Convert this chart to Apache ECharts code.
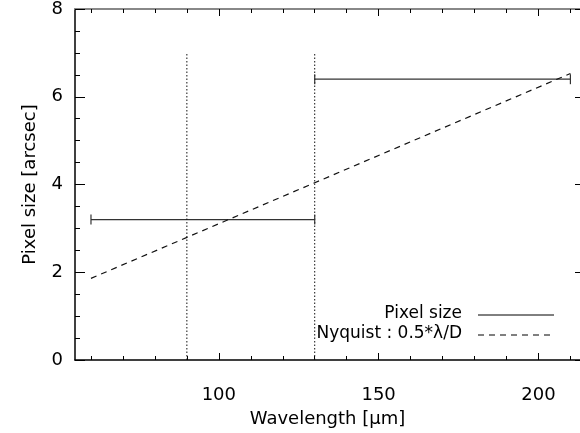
<!DOCTYPE html>
<html>
<head>
<meta charset="utf-8">
<script src="https://cdn.jsdelivr.net/npm/echarts@6/dist/echarts.min.js"></script>
<style>
  html, body { margin: 0; padding: 0; background: #fff; }
  #chart { width: 580px; height: 433px; }
</style>
</head>
<body>
<div id="chart"></div>
<script>
// pixel size per band (wavelength edges in um, size in arcsec)
const bandStart = [60, 130]
const bandEnd = [130, 210]
const pixelSize = [3.2, 6.4]

// Nyquist sampling 0.5*lambda/D
const nyquistWl = [60, 130, 210]
const nyquistVal = [1.86, 4.04, 6.53]

// dotted band dividers
const dividerWl = [90, 130]
const dividerTop = 7

const xMajor = [100, 150, 200]
const xMinor = [60, 70, 80, 90, 110, 120, 130, 140, 160, 170, 180, 190, 210]

const font = 'DejaVu Sans'
const chart = echarts.init(document.getElementById('chart'))

const series = []
bandStart.forEach((s, i) => {
  series.push({
    name: 'Pixel size',
    type: 'line',
    data: [[s, pixelSize[i]], [bandEnd[i], pixelSize[i]]],
    symbol: 'rect',
    symbolSize: [1.2, 10],
    itemStyle: { color: '#333' },
    lineStyle: { color: '#333', width: 1.2 },
    silent: true,
    animation: false
  })
})
dividerWl.forEach(w => {
  series.push({
    type: 'line',
    data: [[w, 0], [w, dividerTop]],
    symbol: 'none',
    lineStyle: { color: '#111', width: 1, type: [1.5, 2] },
    silent: true,
    animation: false
  })
})
series.push({
  name: 'Nyquist',
  type: 'line',
  data: nyquistWl.map((w, i) => [w, nyquistVal[i]]),
  symbol: 'none',
  lineStyle: { color: '#111', width: 1.2, type: [6, 5] },
  silent: true,
  animation: false
})

const xBase = { type: 'value', min: 55, max: 213, splitLine: { show: false } }

chart.setOption({
  backgroundColor: '#fff',
  textStyle: { fontFamily: font },
  grid: { left: 75, top: 9, width: 506, height: 361 },
  xAxis: [
    Object.assign({}, xBase, {
      position: 'bottom',
      name: 'Wavelength [μm]',
      nameLocation: 'middle',
      nameGap: 50,
      nameTextStyle: { fontSize: 18, color: '#000', fontFamily: font },
      axisLine: { lineStyle: { color: '#000', width: 1.5 } },
      axisTick: { inside: true, length: 7, customValues: xMajor, lineStyle: { color: '#000' } },
      axisLabel: { customValues: xMajor, margin: 26, fontSize: 18, color: '#000', fontFamily: font }
    }),
    Object.assign({}, xBase, {
      position: 'bottom',
      axisLine: { show: false },
      axisTick: { inside: true, length: 4, customValues: xMinor, lineStyle: { color: '#000' } },
      axisLabel: { show: false }
    }),
    Object.assign({}, xBase, {
      position: 'top',
      axisLine: { lineStyle: { color: '#888', width: 2 } },
      axisTick: { inside: true, length: 7, customValues: xMajor, lineStyle: { color: '#000' } },
      axisLabel: { show: false }
    }),
    Object.assign({}, xBase, {
      position: 'top',
      axisLine: { show: false },
      axisTick: { inside: true, length: 4, customValues: xMinor, lineStyle: { color: '#000' } },
      axisLabel: { show: false }
    })
  ],
  yAxis: [
    {
      type: 'value', min: 0, max: 8, interval: 2,
      position: 'left',
      name: 'Pixel size [arcsec]',
      nameLocation: 'middle',
      nameGap: 36,
      nameTextStyle: { fontSize: 18, color: '#000', fontFamily: font },
      axisLine: { show: true, lineStyle: { color: '#000', width: 1.5 } },
      axisTick: { inside: true, length: 10, lineStyle: { color: '#000' } },
      minorTick: { show: true, splitNumber: 4, length: 5, lineStyle: { color: '#000' } },
      axisLabel: { margin: 12, fontSize: 18, color: '#000', fontFamily: font },
      splitLine: { show: false }
    },
    {
      type: 'value', min: 0, max: 8, interval: 2,
      position: 'right',
      axisLine: { show: true, lineStyle: { color: '#000' } },
      axisTick: { inside: true, length: 5, lineStyle: { color: '#000' } },
      axisLabel: { show: false },
      splitLine: { show: false }
    }
  ],
  series: series,
  graphic: [
    { type: 'text', right: 580 - 462, top: 305,
      style: { text: 'Pixel size', font: '17px ' + font, fill: '#000', textAlign: 'right' } },
    { type: 'line', shape: { x1: 478, y1: 315, x2: 554, y2: 315 },
      style: { stroke: '#000', lineWidth: 1 } },
    { type: 'text', right: 580 - 462, top: 325,
      style: { text: 'Nyquist : 0.5*λ/D', font: '17px ' + font, fill: '#000', textAlign: 'right' } },
    { type: 'line', shape: { x1: 478, y1: 335, x2: 550, y2: 335 },
      style: { stroke: '#000', lineWidth: 1, lineDash: [6, 5] } }
  ]
})
</script>
</body>
</html>
